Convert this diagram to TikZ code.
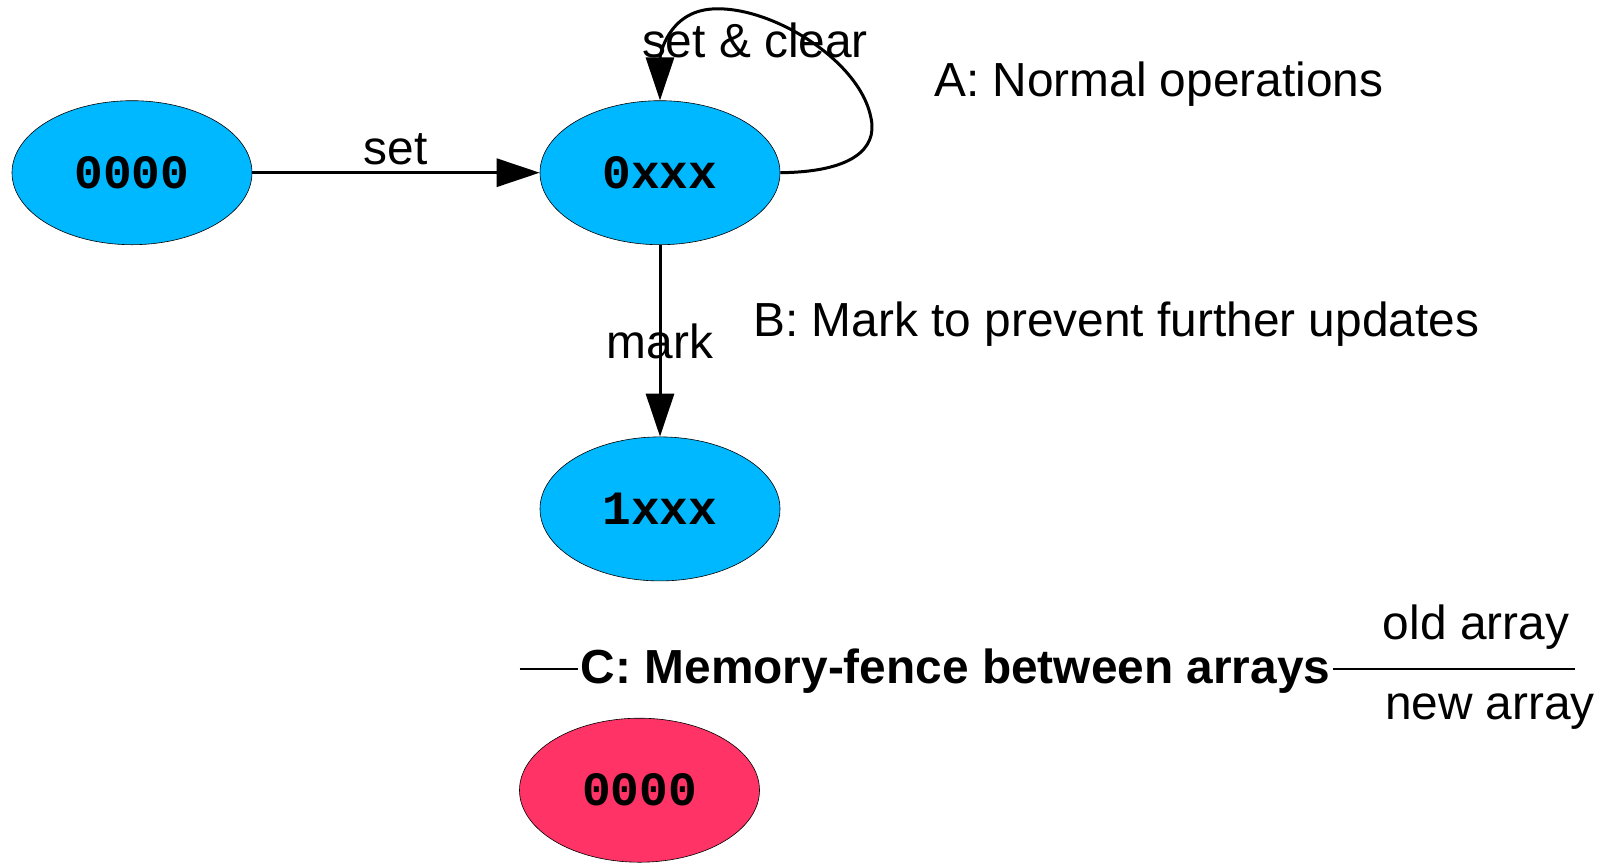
\documentclass[tikz,border=0pt]{standalone}
\usepackage{fontspec}
\setmainfont{Liberation Sans}
\newfontfamily\statefont{Liberation Mono}
\usetikzlibrary{arrows.meta,shapes.geometric}
\definecolor{stateblue}{RGB}{0,184,255}
\definecolor{statered}{RGB}{255,51,102}
\begin{document}
\begin{tikzpicture}[x=0.5bp,y=-0.5bp,
  state/.style={ellipse, draw=black, line width=0.3bp, fill=stateblue,
    minimum width=120bp, minimum height=72bp, inner sep=0pt,
    font=\statefont\bfseries\fontsize{24}{28}\selectfont},
  edge/.style={line width=1.5bp, -{Triangle[length=21.5bp,width=14bp]}},
  lbl/.style={font=\fontsize{24}{29}\selectfont, inner sep=0pt},
]
\useasboundingbox (0,0) rectangle (1607,862);

% states
\node[state] (s0) at (132,172.7) {0000};
\node[state] (s1) at (660,172.7) {0xxx};
\node[state] (s2) at (660,508.9) {1xxx};
\node[state, fill=statered] (s3) at (639.5,790.2) {0000};

% transitions
\draw[edge] (s0) -- (s1);
\node[lbl] (lset) at (395.6,149) {set};

\draw[edge] (s1.east) .. controls (850,172) and (878,150) .. (871,118)
  .. controls (860,60) and (770,5) .. (712,9)
  .. controls (668,12) and (660,55) .. (s1.north);
\node[lbl] (lsc) at (755,40) {set \& clear};

\draw[edge] (s1) -- (s2);
\node[lbl] (lmark) at (660,341) {mark};

% annotations
\node[lbl, anchor=west] (na) at (933.7,84) {A: Normal operations};
\node[lbl, anchor=west] (nb) at (753,324) {B: Mark to prevent further updates};

% memory fence between the two arrays
\coordinate (fl) at (519.6,669);
\coordinate (fr) at (1575.3,669);
\draw[line width=0.6bp] (fl) -- (fr);
\node[lbl, font=\bfseries\fontsize{24}{29}\selectfont, fill=white, inner xsep=1.5bp, inner ysep=4bp] (nc) at (955.7,671) {C: Memory-fence between arrays};
\node[lbl] (nold) at (1476,627) {old array};
\node[lbl, anchor=west] (nnew) at (1384.6,712) {new array};
\end{tikzpicture}
\end{document}
